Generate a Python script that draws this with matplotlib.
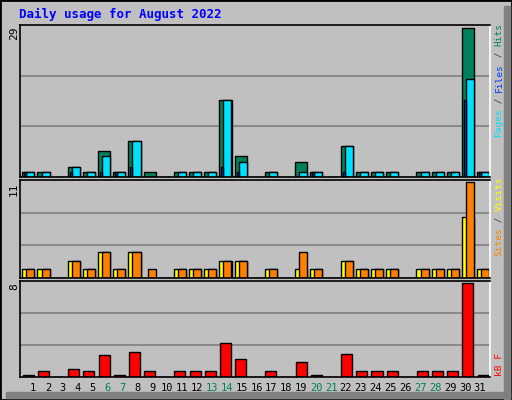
import numpy as np
import matplotlib.pyplot as plt
from matplotlib.patches import Rectangle

days = np.arange(1, 32)
hits  = [1,1,0,2,1,5,1,7,1,0,1,1,1,15,4,0,1,0,3,1,0,6,1,1,1,0,1,1,1,29,1]
files = [1,1,0,2,1,4,1,7,0,0,1,1,1,15,3,0,1,0,1,1,0,6,1,1,1,0,1,1,1,19,1]
pages = [1,0,0,1,0,1,1,2,0,0,0,0,0,2,1,0,0,0,0,1,0,1,0,0,0,0,0,0,0,15,1]
visits = [1,1,0,2,1,3,1,3,0,0,1,1,1,2,2,0,1,0,1,1,0,2,1,1,1,0,1,1,1,7,1]
sites  = [1,1,0,2,1,3,1,3,1,0,1,1,1,2,2,0,1,0,3,1,0,2,1,1,1,0,1,1,1,11,1]
kbytes = [0.2,0.47,0,0.64,0.47,1.87,0.2,2.13,0.47,0,0.47,0.47,0.47,2.92,1.52,0,
          0.47,0,1.26,0.2,0,1.96,0.47,0.47,0.47,0,0.47,0.47,0.47,8,0.2]
weekend = [6,7,13,14,20,21,27,28]

W, H = 512, 400
BG = '#C0C0C0'
L, R = 20, 490
fig = plt.figure(figsize=(W/100, H/100), dpi=100, facecolor=BG)
mono = 'DejaVu Sans Mono'

# outer frame and shadow
fig.patches.append(Rectangle((0, 0), 1, 1, transform=fig.transFigure, fill=False,
                             edgecolor='black', lw=2))
fig.patches.append(Rectangle((504/W, 0), 6/W, 1-6/H, transform=fig.transFigure,
                             color='#808080'))
fig.patches.append(Rectangle((6/W, 2/H), 1-8/W, 6/H, transform=fig.transFigure,
                             color='#808080'))
fig.text(19/W, 1-14/H, 'Daily usage for August 2022', color='#0000FF', fontsize=9,
         fontweight='bold', family=mono, va='center')

def panel(top, bottom, ymax):
    ax = fig.add_axes([L/W, 1-bottom/H, (R-L)/W, (bottom-top)/H])
    ax.set_facecolor(BG)
    ax.set_xlim(0.3, 31.3)
    ax.set_ylim(0, ymax*1.02)
    for f in (1/3, 2/3):
        ax.axhline(ymax*1.02*f, color='#808080', lw=1.2, zorder=0)
    ax.set_xticks([]); ax.set_yticks([])
    for s in ax.spines.values():
        s.set_color('black'); s.set_linewidth(1.2)
    ax.spines['right'].set_color('white')
    fig.text(14/W, 1-(top+2)/H, str(ymax), rotation=90, fontsize=8, family=mono,
             ha='center', va='top')
    return ax

FS = 6.8
def side_label(parts, y_bottom):
    y = y_bottom
    for txt, col in parts:
        fig.text(499/W, 1-y/H, txt, rotation=90, color=col, fontsize=FS, family=mono,
                 ha='center', va='bottom')
        y -= len(txt)*FS*100/72*0.602

kw = dict(edgecolor='black', linewidth=1, align='edge')
ax1 = panel(25, 177, 29)
ax1.bar(days-0.55, hits, 0.8, color='#00805C', **kw)
ax1.bar(days-0.28, files, 0.53, color='#00E0FF', **kw)
ax1.bar(days-0.42, pages, 0.14, color='#0040FF', **kw)
side_label([('Pages', '#00E0FF'), (' / ', '#404040'), ('Files', '#0040FF'),
            (' / ', '#404040'), ('Hits', '#00805C')], 137)

ax2 = panel(180, 278, 11)
ax2.bar(days-0.55, visits, 0.8, color='#FFFF00', **kw)
ax2.bar(days-0.28, sites, 0.53, color='#FF8000', **kw)
side_label([('Sites', '#FF8000'), (' / ', '#404040'), ('Visits', '#FFFF00')], 256)

ax3 = panel(281, 377, 8)
ax3.bar(days-0.52, kbytes, 0.73, color='#FF0000', **kw)
side_label([('kB F', '#FF0000')], 376)

for d in days:
    x = 33 + (d-1)*(480-33)/30
    fig.text(x/W, 1-388/H, str(d), ha='center', va='center', fontsize=7.5,
             family=mono, color='#00805C' if d in weekend else 'black')

fig.savefig('out.png', dpi=100, facecolor=BG)
